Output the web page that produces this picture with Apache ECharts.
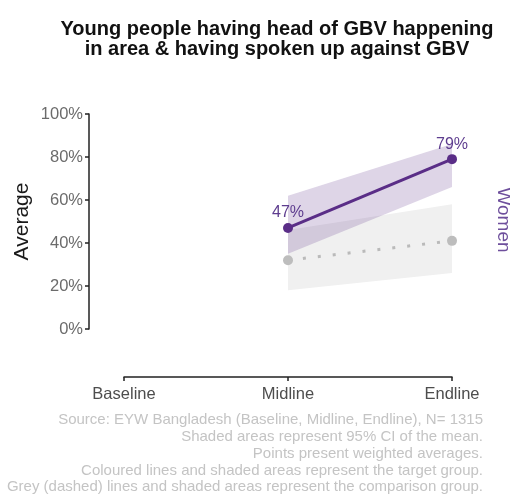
<!DOCTYPE html>
<html>
<head>
<meta charset="utf-8">
<style>
  html, body { margin: 0; padding: 0; background: #fff; }
  #chart { width: 510px; height: 495px; }
</style>
<script src="https://cdn.jsdelivr.net/npm/echarts@6/dist/echarts.min.js"></script>
</head>
<body>
<div id="chart"></div>
<script>
// Survey rounds
const rounds = ['Baseline', 'Midline', 'Endline'];

// Target group (women): weighted averages and 95% CI bounds, in %
const womenMean  = [null, 47, 79];
const womenLower = [null, 35, 66];
const womenUpper = [null, 62, 86];

// Comparison group: weighted averages and 95% CI bounds, in %
const compMean  = [null, 32, 41];
const compLower = [null, 18, 26];
const compUpper = [null, 46, 58];

const yTicks = [0, 20, 40, 60, 80, 100];

const footnotes = [
  'Source: EYW Bangladesh (Baseline, Midline, Endline), N= 1315',
  'Shaded areas represent 95% CI of the mean.',
  'Points present weighted averages.',
  'Coloured lines and shaded areas represent the target group.',
  'Grey (dashed) lines and shaded areas represent the comparison group.'
];

const PURPLE = '#5a2d87';
const FONT = '"Liberation Sans", Arial, sans-serif';

function width(lo, hi) {
  return lo.map((v, i) => (v == null || hi[i] == null) ? null : hi[i] - v);
}

// Confidence band as a stacked area: invisible lower bound + visible width
function band(name, lo, hi, color) {
  return [
    {
      name: name + '-lo', type: 'line', stack: name, data: lo,
      symbol: 'none', lineStyle: { opacity: 0 }, silent: true, z: 1
    },
    {
      name: name + '-band', type: 'line', stack: name, data: width(lo, hi),
      symbol: 'none', lineStyle: { opacity: 0 }, areaStyle: { color: color, opacity: 1 },
      silent: true, z: 1
    }
  ];
}

const chart = echarts.init(document.getElementById('chart'), null, { renderer: 'canvas' });

chart.setOption({
  animation: false,
  title: {
    text: 'Young people having head of GBV happening\nin area & having spoken up against GBV',
    left: 272, top: 14, textAlign: 'center',
    textStyle: { fontFamily: FONT, fontSize: 20, fontWeight: 'bold', color: '#111', lineHeight: 20 }
  },
  grid: { left: 124, right: 58, top: 114, bottom: 166, containLabel: false },
  xAxis: {
    type: 'category', data: rounds, boundaryGap: false, offset: 48,
    axisLine: { onZero: false, lineStyle: { color: '#222', width: 1.5 } },
    axisTick: { alignWithLabel: true, length: 4, lineStyle: { color: '#222', width: 1.5 } },
    axisLabel: { color: '#4d4d4d', fontFamily: FONT, fontSize: 16.5, margin: 9 },
    splitLine: { show: false }
  },
  yAxis: {
    type: 'value', min: 0, max: 100, interval: 20, offset: 35,
    name: 'Average', nameLocation: 'middle', nameGap: 56, nameMoveOverlap: false,
    nameTextStyle: { color: '#1a1a1a', fontFamily: FONT, fontSize: 21 },
    axisLine: { show: true, lineStyle: { color: '#222', width: 1.5 } },
    axisTick: { show: true, length: 4, lineStyle: { color: '#222', width: 1.5 } },
    axisLabel: {
      color: '#6b6b6b', fontFamily: FONT, fontSize: 16.5, margin: 6,
      formatter: v => yTicks.includes(v) ? v + '%' : ''
    },
    splitLine: { show: false }
  },
  series: [
    ...band('comp', compLower, compUpper, '#f0f0f0'),
    ...band('women', womenLower, womenUpper, 'rgba(90,45,135,0.2)'),
    {
      name: 'Comparison', type: 'line', data: compMean, z: 3,
      symbol: 'circle', symbolSize: 10, showSymbol: true,
      itemStyle: { color: '#bdbdbd' },
      lineStyle: { color: '#bababa', width: 3, type: [3, 12], cap: 'butt' }
    },
    {
      name: 'Women', type: 'line', data: womenMean, z: 4,
      symbol: 'circle', symbolSize: 10,
      itemStyle: { color: PURPLE },
      lineStyle: { color: PURPLE, width: 3 },
      label: {
        show: true, position: 'top', distance: 2,
        color: '#5e3d8f', fontFamily: FONT, fontSize: 16,
        formatter: p => p.value + '%'
      }
    }
  ],
  graphic: [
    {
      type: 'text', x: 503, y: 220, rotation: -Math.PI / 2,
      style: {
        text: 'Women', fill: '#6e4f9c', font: '19px ' + FONT,
        align: 'center', verticalAlign: 'middle'
      }
    },
    ...footnotes.map((t, i) => ({
      type: 'text', x: 483, y: 420 + i * 16.8,
      style: {
        text: t, fill: '#c4c4c4', font: '15px ' + FONT,
        align: 'right', verticalAlign: 'middle'
      }
    }))
  ]
});
</script>
</body>
</html>
